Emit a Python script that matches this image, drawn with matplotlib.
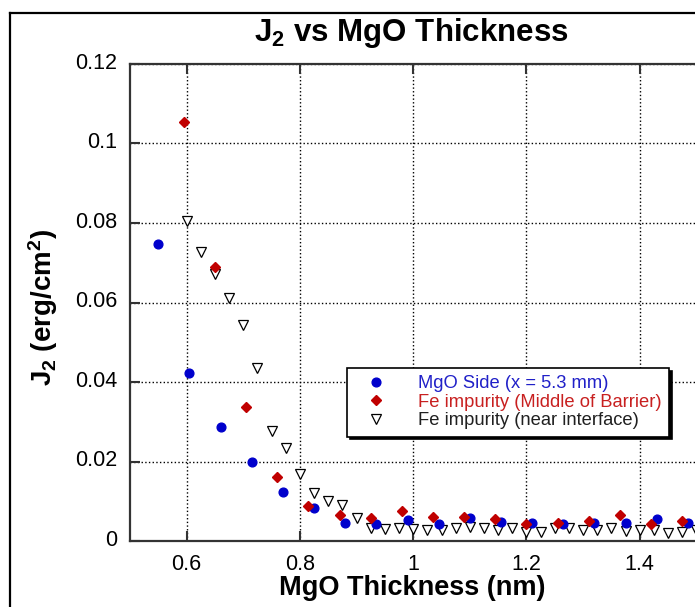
import matplotlib
matplotlib.use("Agg")
import matplotlib.pyplot as plt
import matplotlib.transforms as mtransforms
from matplotlib.lines import Line2D

plt.rcParams["font.family"] = ["Liberation Sans", "DejaVu Sans"]
plt.rcParams["mathtext.fontset"] = "custom"
plt.rcParams["mathtext.rm"] = "Liberation Sans"
plt.rcParams["mathtext.bf"] = "Liberation Sans:bold"

# MgO side (x = 5.3 mm)
mgo_x = [0.55, 0.605, 0.66, 0.715, 0.77, 0.825, 0.88, 0.935, 0.99, 1.045,
         1.10, 1.155, 1.21, 1.265, 1.32, 1.375, 1.43, 1.485]
mgo_j2 = [0.0747, 0.0423, 0.0287, 0.0199, 0.0124, 0.0084, 0.0045, 0.0042, 0.0053, 0.0042,
          0.0057, 0.0047, 0.0045, 0.0042, 0.0045, 0.0046, 0.0055, 0.0046]

# Fe impurity, middle of barrier
mid_x = [0.595, 0.65, 0.705, 0.76, 0.815, 0.87, 0.925, 0.98, 1.035, 1.09,
         1.145, 1.20, 1.255, 1.31, 1.365, 1.42, 1.475]
mid_j2 = [0.1053, 0.0690, 0.0336, 0.0162, 0.0089, 0.0066, 0.0059, 0.0075, 0.0061, 0.0061,
          0.0055, 0.0042, 0.0045, 0.0051, 0.0065, 0.0043, 0.0051]

# Fe impurity, near interface
near_x = [0.6, 0.625, 0.65, 0.675, 0.7, 0.725, 0.75, 0.775, 0.8, 0.825,
          0.85, 0.875, 0.9, 0.925, 0.95, 0.975, 1.0, 1.025, 1.05, 1.075,
          1.1, 1.125, 1.15, 1.175, 1.2, 1.225, 1.25, 1.275, 1.3, 1.325,
          1.35, 1.375, 1.4, 1.425, 1.45, 1.475, 1.5]
near_j2 = [0.0805, 0.0727, 0.0672, 0.0611, 0.0543, 0.0435, 0.0277, 0.0234, 0.0169, 0.0121,
           0.0101, 0.0091, 0.0058, 0.0033, 0.0030, 0.0033, 0.0030, 0.0028, 0.0028, 0.0033,
           0.0035, 0.0033, 0.0028, 0.0033, 0.0023, 0.0023, 0.0033, 0.0033, 0.0028, 0.0028,
           0.0033, 0.0025, 0.0028, 0.0028, 0.0020, 0.0023, 0.0028]

labels = ["MgO Side (x = 5.3 mm)", "Fe impurity (Middle of Barrier)",
          "Fe impurity (near interface)"]
label_colors = ["#2020c8", "#c82020", "#202020"]
x_ticks = [0.6, 0.8, 1.0, 1.2, 1.4]
x_tick_labels = ["0.6", "0.8", "1", "1.2", "1.4"]
y_ticks = [0, 0.02, 0.04, 0.06, 0.08, 0.1, 0.12]
y_tick_labels = ["0", "0.02", "0.04", "0.06", "0.08", "0.1", "0.12"]

W, H = 695, 607
fig = plt.figure(figsize=(W / 100, H / 100), dpi=100)
fig.patch.set_facecolor("white")

# axes runs past the right edge of the picture, as in the cropped original
left, right, top, bottom = 130, 753, 64, 541
ax = fig.add_axes([left / W, 1 - bottom / H, (right - left) / W, (bottom - top) / H])
ax.set_xlim(0.5, 1.6)
ax.set_ylim(0, 0.12)

ax.plot(mgo_x, mgo_j2, "o", color="#0000cc", markersize=6.3, linestyle="none", zorder=3)
ax.plot(mid_x, mid_j2, "D", color="#c00000", markersize=4.8, linestyle="none", zorder=3)
ax.plot(near_x, near_j2, "v", markerfacecolor="white", markeredgecolor="black",
        markeredgewidth=0.9, markersize=7, linestyle="none", zorder=2)

ax.set_xticks(x_ticks)
ax.set_xticklabels(x_tick_labels)
ax.set_yticks(y_ticks)
ax.set_yticklabels(y_tick_labels)
ax.tick_params(direction="in", length=7, width=1.5, labelsize=15.5, pad=9,
               top=True, right=True, color="#333333")
ax.grid(True, linestyle=":", color="black", linewidth=1.0)
for sp in ax.spines.values():
    sp.set_linewidth(1.6)
    sp.set_color("#333333")

# y tick labels sit a few pixels above their ticks in the original
lift = mtransforms.ScaledTranslation(0, 3 / 100, fig.dpi_scale_trans)
for lab in ax.get_yticklabels():
    lab.set_transform(lab.get_transform() + lift)

fig.text(411 / W, 1 - 33 / H, r"$\mathbf{J_2}$ vs MgO Thickness", ha="center", va="center",
         fontsize=22.5, fontweight="bold")
fig.text(412 / W, 1 - 588 / H, "MgO Thickness (nm)", ha="center", va="center",
         fontsize=19.5, fontweight="bold")
fig.text(43 / W, 1 - 308 / H, r"$\mathbf{J_2}$ (erg/cm$\mathbf{^2}$)", ha="center", va="center",
         rotation=90, fontsize=20, fontweight="bold")

handles = [
    Line2D([], [], marker="o", color="#0000cc", markersize=6.3, linestyle="none"),
    Line2D([], [], marker="D", color="#c00000", markersize=4.8, linestyle="none"),
    Line2D([], [], marker="v", markerfacecolor="white", markeredgecolor="black",
           markeredgewidth=0.9, markersize=7, linestyle="none"),
]
leg = fig.legend(handles, labels, loc="upper left",
                 bbox_to_anchor=(347 / W, 1 - 368 / H), borderaxespad=0, fontsize=13.2,
                 frameon=True, fancybox=False, shadow={"color": "black", "alpha": 1},
                 edgecolor="black", framealpha=1, borderpad=0.4, handletextpad=1.1,
                 labelspacing=0.08, handlelength=2.4)
leg.get_frame().set_linewidth(1.2)
for t, c in zip(leg.get_texts(), label_colors):
    t.set_color(c)

# outer frame of the original page, cut at right and bottom
fig.add_artist(Line2D([10 / W, 10 / W], [0, 1 - 13 / H], color="black", linewidth=1.6,
                      transform=fig.transFigure))
fig.add_artist(Line2D([10 / W, 1], [1 - 13 / H, 1 - 13 / H], color="black", linewidth=1.6,
                      transform=fig.transFigure))

fig.savefig("out.png", dpi=100)
